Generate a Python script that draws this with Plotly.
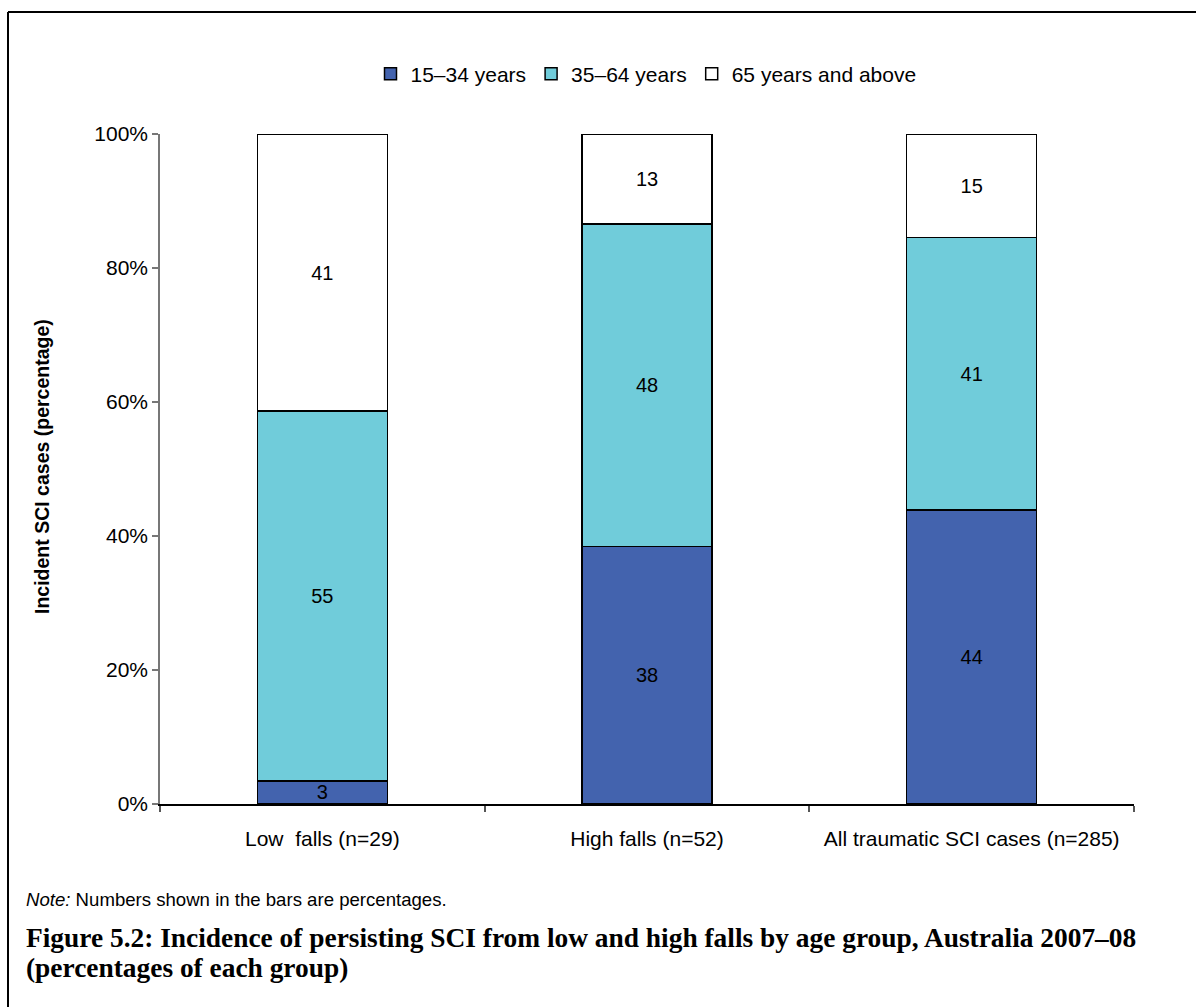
import plotly.graph_objects as go

# Incident SCI cases by fall type and age group (percent of each group)
categories = ["Low  falls (n=29)", "High falls (n=52)", "All traumatic SCI cases (n=285)"]
group_n = [29, 52, 285]
age_groups = ["15–34 years", "35–64 years", "65 years and above"]
counts_15_34 = [1, 20, 125]
counts_35_64 = [16, 25, 116]
counts_65_plus = [12, 7, 44]
colors = ["#4363AE", "#70CCDA", "#FFFFFF"]

FONT = "Liberation Sans, Arial, sans-serif"
SERIF = "Liberation Serif, Times New Roman, serif"

W, H = 1196, 1007
L, R, T, B = 160, 62, 134, 203
PW, PH = W - L - R, H - T - B


def px(x):
    return (x - L) / PW


def py(y):
    return (H - B - y) / PH


fig = go.Figure()
for name, counts, color in zip(age_groups, [counts_15_34, counts_35_64, counts_65_plus], colors):
    pct = [c / n * 100 for c, n in zip(counts, group_n)]
    fig.add_trace(go.Bar(
        x=categories,
        y=pct,
        name=name,
        width=0.4,
        marker=dict(color=color, line=dict(color="black", width=1.5)),
        text=[f"{v:.0f}" for v in pct],
        textposition="inside",
        insidetextanchor="middle",
        textangle=0,
        textfont=dict(family=FONT, size=20, color="black"),
        constraintext="none",
        hoverinfo="skip",
    ))

fig.update_layout(
    width=W, height=H,
    margin=dict(l=L, r=R, t=T, b=B, autoexpand=False),
    barmode="stack",
    paper_bgcolor="white",
    plot_bgcolor="white",
    font=dict(family=FONT, size=20, color="black"),
    showlegend=True,
    legend=dict(
        orientation="h",
        x=px(646), xanchor="center",
        y=py(74), yanchor="middle",
        font=dict(family=FONT, size=21, color="black"),
        traceorder="normal",
        itemwidth=30,
        tracegroupgap=0,
    ),
    uniformtext=dict(mode=False),
)

fig.update_xaxes(
    type="category",
    range=[-0.5, 2.5],
    showline=True, linecolor="black", linewidth=1.5,
    ticks="outside", tickson="boundaries", ticklen=6, tickcolor="#555555", tickwidth=1.5,
    ticklabelstandoff=15,
    showgrid=False, zeroline=False,
    tickfont=dict(family=FONT, size=21, color="black"),
)
fig.update_yaxes(
    range=[0, 100],
    dtick=20,
    ticksuffix="%",
    showline=True, linecolor="#777777", linewidth=1.5,
    ticks="outside", ticklen=6, tickcolor="#777777", tickwidth=1.5,
    showgrid=False, zeroline=False,
    tickfont=dict(family=FONT, size=21, color="black"),
)

annotations = [
    dict(text="<b>Incident SCI cases (percentage)</b>", textangle=-90,
         x=px(42), y=py(467), xanchor="center", yanchor="middle",
         font=dict(family=FONT, size=19.5, color="black")),
    dict(text="<i>Note:</i> Numbers shown in the bars are percentages.",
         x=px(24), y=py(899), xanchor="left", yanchor="middle",
         font=dict(family=FONT, size=18.6, color="black")),
    dict(text="<b>Figure 5.2: Incidence of persisting SCI from low and high falls by age group, Australia 2007–08</b>",
         x=px(24), y=py(938), xanchor="left", yanchor="middle",
         font=dict(family=SERIF, size=27.4, color="black")),
    dict(text="<b>(percentages of each group)</b>",
         x=px(24), y=py(968), xanchor="left", yanchor="middle",
         font=dict(family=SERIF, size=27.4, color="black")),
]
for a in annotations:
    a.update(xref="paper", yref="paper", showarrow=False, align="left")
fig.update_layout(annotations=annotations)

# Frame around the figure (top and left edges)
fig.add_shape(type="line", xref="paper", yref="paper",
              x0=px(8), x1=px(1196), y0=py(12), y1=py(12),
              line=dict(color="black", width=2))
fig.add_shape(type="line", xref="paper", yref="paper",
              x0=px(8), x1=px(8), y0=py(12), y1=py(1007),
              line=dict(color="black", width=2))

fig.write_html("out.html")
